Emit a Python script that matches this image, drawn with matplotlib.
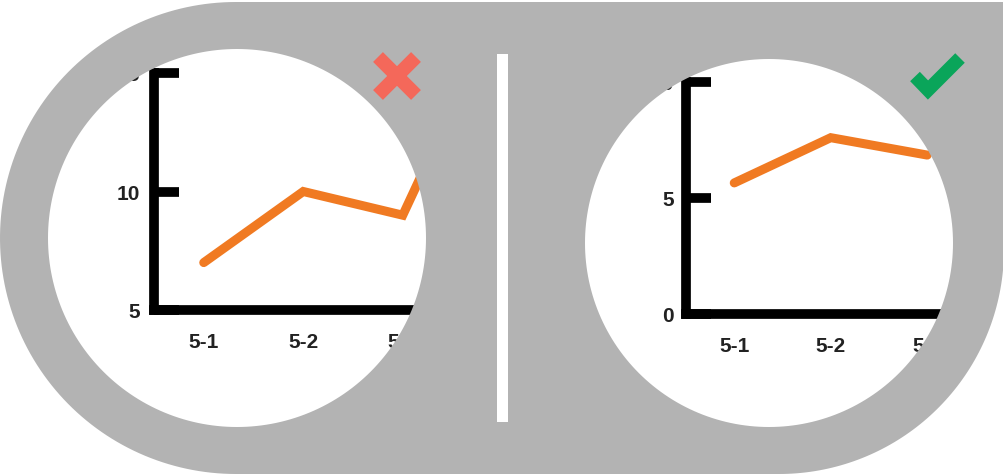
import numpy as np
import matplotlib
matplotlib.use("Agg")
import matplotlib.pyplot as plt
from matplotlib.patches import PathPatch, Rectangle
from matplotlib.path import Path
from matplotlib.lines import Line2D

plt.rcParams['font.family'] = ['Liberation Sans', 'DejaVu Sans']

# data
categories = ["5-1", "5-2", "5-3"]
bad_values = [7, 10, 9, 18]          # y axis starting at 5 (wrong)
good_values = [5.65, 7.6, 6.85]      # y axis starting at 0 (right)
bad_yticks = [5, 10, 15]
good_yticks = [0, 5, 10]

W, H = 1004, 477
GRAY = "#b3b3b3"
ORANGE = "#f07a22"
TXT = "#222222"

fig = plt.figure(figsize=(W / 100, H / 100), dpi=100)
fig.patch.set_facecolor("white")


def chart(spine_x, axis_y, top_y, step, xmax, values, ylim, yticks, ypad):
    ax = fig.add_axes([spine_x / W, 1 - axis_y / H, (xmax + 0.5) * step / W,
                       (axis_y - top_y) / H])
    ax.patch.set_visible(False)
    xs = np.arange(len(values))
    ax.plot(xs, values, color=ORANGE, lw=6.5,
            solid_capstyle="round", solid_joinstyle="miter")
    ax.set_xlim(-0.5, xmax)
    ax.set_ylim(*ylim)
    ax.set_xticks(range(len(categories)))
    ax.set_xticklabels(categories)
    ax.set_yticks(yticks)
    for s in ["top", "right"]:
        ax.spines[s].set_visible(False)
    for s in ["left", "bottom"]:
        ax.spines[s].set_linewidth(7)
        ax.spines[s].set_color("black")
    ax.tick_params(axis="y", direction="in", length=18, width=7, color="black",
                   pad=ypad, labelsize=15, labelcolor=TXT)
    ax.tick_params(axis="x", direction="in", length=0, pad=16,
                   labelsize=15, labelcolor=TXT)
    for lab in ax.get_xticklabels() + ax.get_yticklabels():
        lab.set_fontweight("bold")
    return ax


chart(154, 311, 74, 99.5, 3.0, bad_values, (5, 15), bad_yticks, 10)
chart(686, 315, 83, 96.5, 2.6, good_values, (0, 10), good_yticks, 8.5)

# gray frame with two round windows, drawn on top in pixel coordinates
fg = fig.add_axes([0, 0, 1, 1])
fg.set_xlim(0, W)
fg.set_ylim(H, 0)
fg.axis("off")
fg.patch.set_visible(False)

top, bot = 3, 475
r = (bot - top) / 2
cy = (top + bot) / 2
cx = r
t = np.linspace(-np.pi / 2, np.pi / 2, 120)
left_arc = np.column_stack([cx - r * np.cos(t), cy + r * np.sin(t)])
R = 225
ccx, ccy = W - R, bot - R
p = np.linspace(0, np.pi / 2, 80)
corner = np.column_stack([ccx + R * np.sin(p), ccy + R * np.cos(p)])
outer = np.vstack([left_arc, corner, [[W + 10, ccy], [W + 10, top], [cx, top]]])


def area(a):
    x, y = a[:, 0], a[:, 1]
    return 0.5 * np.sum(x * np.roll(y, -1) - np.roll(x, -1) * y)


def ring(x0, y0, rad):
    a = np.linspace(0, 2 * np.pi, 240, endpoint=False)
    c = np.column_stack([x0 + rad * np.cos(a), y0 + rad * np.sin(a)])
    if np.sign(area(c)) == np.sign(area(outer)):
        c = c[::-1]
    return c


verts, codes = [], []
for poly in [outer, ring(237, 239, 189), ring(769, 244, 184)]:
    verts += list(poly) + [poly[0]]
    codes += [Path.MOVETO] + [Path.LINETO] * (len(poly) - 1) + [Path.CLOSEPOLY]
fg.add_patch(PathPatch(Path(np.array(verts), codes), facecolor=GRAY,
                       edgecolor="none"))
fg.add_patch(Rectangle((497, 55), 11, 368, facecolor="white", edgecolor="none"))

# red cross
for (x0, y0), (x1, y1) in [((378, 58), (416, 96)), ((416, 58), (378, 96))]:
    fg.add_line(Line2D([x0, x1], [y0, y1], color="#f4685a", lw=10,
                       solid_capstyle="butt"))
# green check
fg.add_line(Line2D([915, 928, 960], [77.5, 91, 59], color="#0aa55a", lw=9.7,
                   solid_capstyle="butt", solid_joinstyle="miter"))

fig.savefig("out.png", dpi=100, facecolor="white")
